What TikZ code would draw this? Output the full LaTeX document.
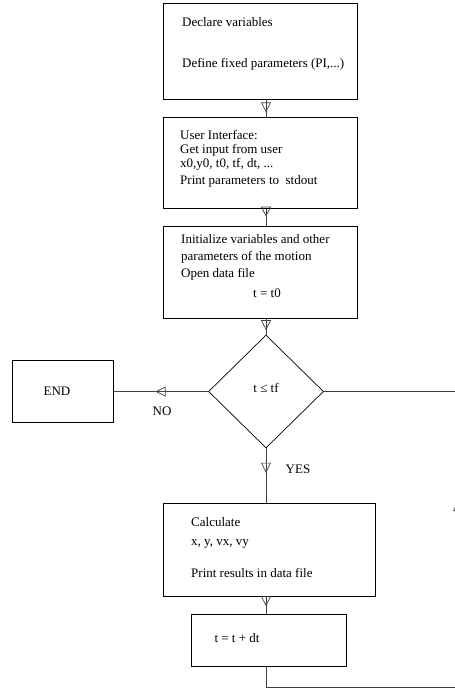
\documentclass[tikz,border=0pt]{standalone}
\usepackage{fontspec}
\setmainfont{Liberation Serif}
\usetikzlibrary{positioning,arrows.meta,decorations.markings,shapes.geometric}

\begin{document}
\begin{tikzpicture}[x=1pt,y=-1pt,font=\fontsize{13}{14}\selectfont]
  \tikzstyle{block} = [rectangle, draw, line width=0.7pt, inner sep=0pt]
  \tikzstyle{txt} = [anchor=north west, align=left, inner sep=0pt]
  \tikzstyle{word} = [anchor=base, inner sep=0pt]
  \tikzset{flow/.style={draw=black!75, line width=0.7pt, postaction={decorate},
      decoration={markings, mark=at position #1 with {\arrow{Triangle[open,length=10pt,width=10pt]}}}}}
  \useasboundingbox (0,0) rectangle (455,688);

  % Define nodes
  \node[block, minimum width=194pt, minimum height=96pt] (decl) at (260,51) {};
  \node[block, minimum width=194pt, minimum height=91pt, below=18pt of decl] (ui) {};
  \node[block, minimum width=194pt, minimum height=92pt, below=17pt of ui] (init) {};
  \node[diamond, draw, line width=0.7pt, minimum width=115pt, minimum height=113pt, inner sep=0pt] (test) at (266,391.5) {};
  \node[block, minimum width=101pt, minimum height=62pt, left=94pt of test] (end) {};
  \node[block, minimum width=212pt, minimum height=93pt] (calc) at (269,549.5) {};
  \node[block, minimum width=155pt, minimum height=52pt, below=18pt of calc] (incr) {};
  \coordinate (spine) at (266,0);

  % Texts in the boxes
  \node[txt] (decltxt) at (182,17.6) {Declare variables\\[27pt]Define fixed parameters (PI,...)};
  \node[txt] (uitxt) at (180,130) {User Interface:\\Get input from user\\x0,y0, t0, tf, dt, ...\\[3pt]Print parameters to~ stdout};
  \node[txt] (inittxt) at (181,234.5) {Initialize variables and other\\[3pt]parameters of the motion\\[3pt]Open data file\\[6pt]\hspace*{72pt}t = t0};
  \node[txt] (calctxt) at (191,517.5) {Calculate\\[5pt]x, y, vx, vy\\[18pt]Print results in data file};
  \node[word] (endtxt) at (57,395.5) {END};
  \node[word] (testtxt) at (266,392) {t ≤ tf};
  \node[word] (incrtxt) at (237,642) {t = t + dt};
  \node[word] (no) at (162,415.5) {NO};
  \node[word] (yes) at (298,473.5) {YES};

  % Connectors
  \draw[flow=0.72] (decl.south -| spine) -- (ui.north -| spine);
  \draw[flow=0.45] (ui.south -| spine) -- (init.north -| spine);
  \draw[flow=0.72] (init.south -| spine) -- (test.north);
  \draw[flow=0.45] (test.south) -- (calc.north -| spine);
  \draw[flow=0.55] (calc.south -| spine) -- (incr.north -| spine);
  \draw[flow=0.56] (test.west) -- (end.east);
  \coordinate (back) at (458,687);
  \draw[flow=0.62] (incr.south -| spine) |- (back) |- (test.east);
\end{tikzpicture}
\end{document}
